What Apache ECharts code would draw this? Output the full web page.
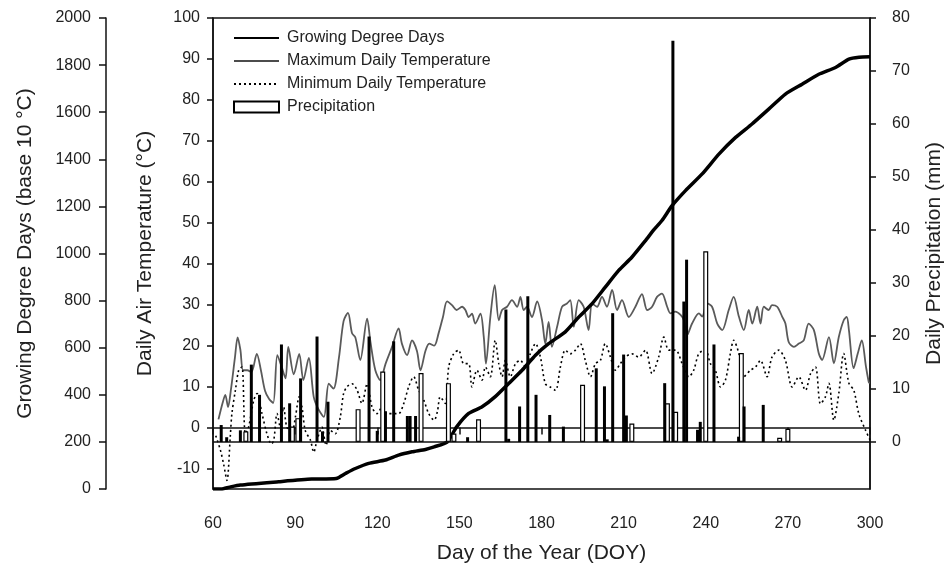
<!DOCTYPE html>
<html>
<head>
<meta charset="utf-8">
<script src="https://cdn.jsdelivr.net/npm/echarts@6/dist/echarts.min.js"></script>
<style>
html,body{margin:0;padding:0;background:#fff;}
#chart{width:947px;height:569px;}
</style>
</head>
<body>
<div id="chart"></div>
<script>
// ---------- DATA ----------
const xTicks = [60, 90, 120, 150, 180, 210, 240, 270, 300];
const tempTicks = [-10, 0, 10, 20, 30, 40, 50, 60, 70, 80, 90, 100];
const precipTicks = [0, 10, 20, 30, 40, 50, 60, 70, 80];

// Growing Degree Days (cumulative, base 10 °C)
const gddDays = [60,63,66,70,84,96,105,108.4,112,116.9,123,127.8,132.7,137.6,140.8,145.5,149,153.4,158.3,163,168,172.9,177.8,182.6,188.7,193.6,198.5,203.3,208.2,213,218,221,224,227.7,232.6,238.7,244.8,250.9,256.9,263,269.1,275.2,281.3,287.4,292.3,296,300];
const gddValues = [0,0,8,17,31,42,45,66,87,109,123,144,158,168,179,199,264,321,349,391,448,504,568,617,667,730,787,857,928,984,1055,1100,1140,1203,1267,1338,1422,1493,1550,1613,1677,1719,1761,1790,1825,1833,1835];

// Maximum daily temperature (°C)
const maxTempDays = [62,63.5,64.5,65.5,66.5,68,69,70,71,72.5,74,76,77.5,79,80.5,82,83.5,85,86.5,87.5,89.5,91.5,93,95,96.8,98.5,100.5,102.3,104,106,107.7,109.3,110.8,112,113.8,116.3,117.5,119.3,121.1,123,125.4,127.8,129,130.9,132.7,134.5,135.8,137.6,139,140.8,142.4,144,145.5,147.3,149,151,152.2,153.4,154.6,155.8,157.7,158.9,159.7,161.3,162.9,164.4,165.6,167.4,169.2,171.1,172.3,173.5,174.7,176.5,178.4,180.2,181.4,182.6,183.8,185.7,187.5,189.3,190.5,191.8,193.6,195.4,197.2,198.5,200.3,202.1,203.9,205.8,207.6,209.4,211.9,214.3,216.7,218.6,220.4,222.2,224,225.9,227.1,228.9,230.8,232,233.2,235,237.5,238.7,240.5,242.3,244.2,246,248.4,250.2,252.1,253.9,255.7,257,258.8,260,261.2,263,264.2,266.1,267.9,269.1,270.3,272.2,274,275.8,277.6,279.5,281.3,282.5,285,286.8,288.6,290.4,291.5,292.3,294,295.5,297,298.5,299.6,300];
const maxTempValues = [2,6,8,5,9,17,22,19,14,14,13.5,18,14,9,7,6,17.7,15,12,19.7,13,18,11.6,17,7.5,4.5,2.6,10.7,9.5,17,26,28,23,22,16.5,26.6,21,14,11.6,15.5,19.7,24.2,20.5,17.7,21.3,18.7,14,18.7,20.5,20,23,27,30.8,29.9,28.7,29.5,28.7,27,27.8,25.4,27.8,22.2,15.6,26.9,34.8,26.2,28.7,29.5,31.1,29.5,31.9,28.7,29.5,27,30.8,26.2,20.5,25.8,19.7,24.6,29.5,30.3,31.1,24.6,31.1,29.5,23.8,30.3,29.5,31.9,29.5,33.6,28.7,31.1,27,29.5,32.6,28.7,29.5,31.9,32.7,29.5,27.9,28.3,27.5,26.2,22.6,25.4,27.9,27.1,30.3,29.5,25.4,23.8,28.7,31.9,27.1,23.8,28.7,25.4,29.5,25.4,29.5,28.7,29.9,29.5,27.1,25.4,20.9,19.7,20.5,21.3,25.4,23.8,18.1,16.5,22.1,15.7,22.1,26.2,27,23.8,14.5,18,21.3,15,11,10.9];

// Minimum daily temperature (°C)
const minTempDays = [61,62.7,63.9,65.1,66.3,66.9,68.2,69.4,70.6,71.8,73,74.9,76.1,77.9,79.7,81.3,82.2,83.4,84.6,85.8,87,88.9,90.1,91.5,92.5,93.7,95.6,96.8,98,99.8,101.3,102.9,104.7,106.5,107.7,109,110.8,112.6,114.4,116.3,118.1,119.9,121.8,123.6,126,127.8,129.7,131.5,133.3,135.1,137,138.8,140.8,142,143,144.9,146.1,147.9,149.7,151.6,153.4,154.6,156.4,158.3,159.5,161.3,163.1,164.4,165.6,166.8,168.6,170.5,172.3,174.1,175.9,177.8,179.6,181.4,183.2,185.1,186.9,188.7,190.5,192.4,194.2,196,197.9,199.7,201.5,203.3,205.2,207,208.8,210.6,213.1,215.5,218,220.4,222.8,224.7,226.5,229,231.4,233.8,235.6,237.5,239.9,241.7,243.5,245.4,247.2,249,250.2,252.1,253.9,256.3,258.2,260,262.4,264.2,266.7,269.1,271.6,274,276.4,278.3,280.1,281.9,283.7,285,286.8,288.6,290.4,292.3,294.1,295.9,298.4,300];
const minTempValues = [-2,-5.5,-9,-12.9,-2.3,3.4,9.2,14,14.8,-1.5,0.1,6.7,8.3,3.4,-1.5,-4,-3.1,3.4,0.1,5,0.1,-0.7,2.6,7.5,5,-0.7,-3.1,-6,-3.1,0.1,-4.3,-0.7,-1.5,2.6,8.3,10,10.7,9.2,5.9,10.7,5,3.4,5,3.4,3.4,3.4,5.9,10,12.4,9.2,6.7,3.4,1.8,4,7.5,5.9,14.8,18,18.9,15.6,15.6,9.9,14,11.6,14.8,12.4,21.3,15.6,12.4,16.4,12.4,15.6,16.4,14.8,18,20.5,17.2,10.7,9.9,9.1,14.8,18.9,18,18.9,20.5,16.4,12.4,15.6,16.4,20.5,17.2,14,15.6,17.2,18,17.2,18.9,13.2,17.2,22.1,18.9,18.9,15.6,12.4,14,18.1,18.9,15.6,14,9.9,11.6,18.1,21.3,18.1,12.4,14,14.8,16.4,12.4,17.2,18.9,16.4,9.9,12.4,9.1,13.2,14.8,5.8,7.5,10.8,1.8,8.3,18.1,10.8,9.1,3.4,-0.7,-3];

// Daily precipitation (mm) - bars drawn solid in the reference
const rainSolidDays = [63,65,70,74,77,85,88,92,98,100,102,117,120,123,126,131,132,134,153,167,168,172,175,178,183,188,200,203,204,206,210,211,225,228,232,233,237,238,243,252,254,261];
const rainSolidMm = [3.2,0.9,2.2,14.6,8.9,18.4,7.3,12.0,19.9,2.0,7.6,19.9,2.1,5.8,19.0,4.9,4.9,4.9,0.9,25.0,0.6,6.7,27.5,8.9,5.1,2.9,13.9,10.5,0.5,24.3,16.5,5.0,11.1,75.7,26.5,34.4,2.3,3.8,18.4,1.0,6.7,7.0];
// Daily precipitation (mm) - bars drawn open in the reference
const rainOpenDays = [72,89,91,113,122,136,146,148,157,195,213,226,229,240,253,267,270];
const rainOpenMm = [2.0,2.9,4.5,6.2,13.3,13.0,11.1,1.6,4.3,10.8,3.5,7.3,5.7,36.0,16.8,0.8,2.5];

// ---------- CHART ----------
const pair = (xs, ys) => xs.map((x, i) => [x, ys[i]]);
const FONT = "'Liberation Sans', Arial, sans-serif";
const TXT = '#222';

const chart = echarts.init(document.getElementById('chart'), null, {renderer: 'canvas'});

const axisLineStyle = {lineStyle: {color: '#111', width: 1.5}};
const tickStyle = {lineStyle: {color: '#111', width: 1.5}};
const plain = v => String(v);

chart.setOption({
  animation: false,
  backgroundColor: '#fff',
  textStyle: {fontFamily: FONT},
  grid: {left: 213, right: 77, top: 18, bottom: 80, containLabel: false, outerBoundsMode: 'none',
         show: true, borderColor: '#111', borderWidth: 1.5, backgroundColor: 'transparent'},
  legend: {
    orient: 'vertical',
    left: 233, top: 30,
    padding: 0,
    itemWidth: 45, itemHeight: 11, itemGap: 7,
    textStyle: {fontSize: 16, color: TXT, fontFamily: FONT, padding: [0, 0, 0, 3]},
    data: [
      {name: 'Growing Degree Days', itemStyle: {opacity: 0}},
      {name: 'Maximum Daily Temperature', itemStyle: {opacity: 0}, lineStyle: {color: '#111', width: 1.5}},
      {name: 'Minimum Daily Temperature', itemStyle: {opacity: 0}},
      {name: 'Precipitation', icon: 'rect'}
    ]
  },
  xAxis: [
    {
      type: 'value', min: 60, max: 300, interval: 30,
      name: 'Day of the Year (DOY)', nameLocation: 'middle', nameGap: 54,
      nameTextStyle: {fontSize: 21, color: TXT, fontFamily: FONT},
      axisLine: axisLineStyle,
      axisTick: {show: true, length: 7, inside: false, ...tickStyle, customValues: xTicks},
      axisLabel: {fontSize: 16, color: TXT, margin: 27, fontFamily: FONT, customValues: xTicks, formatter: plain},
      splitLine: {show: false}
    },
    {
      type: 'value', min: 60, max: 300, show: false, gridIndex: 0
    }
  ],
  yAxis: [
    {
      type: 'value', min: -15, max: 100, position: 'left',
      name: 'Daily Air Temperature (°C)', nameLocation: 'middle', nameGap: 57,
      nameTextStyle: {fontSize: 21, color: TXT, fontFamily: FONT},
      axisLine: {show: true, ...axisLineStyle},
      axisTick: {show: true, length: 6, ...tickStyle, customValues: tempTicks},
      axisLabel: {fontSize: 16, color: TXT, margin: 13, fontFamily: FONT, customValues: tempTicks, formatter: plain},
      splitLine: {show: false}
    },
    {
      type: 'value', min: 0, max: 2000, interval: 200, position: 'left', offset: 107,
      name: 'Growing Degree Days (base 10 °C)', nameLocation: 'middle', nameGap: 70,
      nameTextStyle: {fontSize: 21, color: TXT, fontFamily: FONT},
      axisLine: {show: true, ...axisLineStyle},
      axisTick: {show: true, length: 7, ...tickStyle},
      axisLabel: {fontSize: 16, color: TXT, margin: 15, fontFamily: FONT, formatter: plain},
      splitLine: {show: false}
    },
    {
      type: 'value', min: -8.87, max: 80, position: 'right',
      name: 'Daily Precipitation (mm)', nameLocation: 'middle', nameGap: 54, nameRotate: 90,
      nameTextStyle: {fontSize: 21, color: TXT, fontFamily: FONT},
      axisLine: {show: true, ...axisLineStyle},
      axisTick: {show: true, length: 6, ...tickStyle, customValues: precipTicks},
      axisLabel: {fontSize: 16, color: TXT, margin: 22, fontFamily: FONT, customValues: precipTicks, formatter: plain},
      splitLine: {show: false}
    }
  ],
  series: [
    {
      name: 'Growing Degree Days', type: 'line', xAxisIndex: 0, yAxisIndex: 1,
      data: pair(gddDays, gddValues), showSymbol: false, symbol: 'none', smooth: 0.2,
      lineStyle: {color: '#000', width: 3.5}, itemStyle: {color: '#000'}, z: 3
    },
    {
      name: 'Maximum Daily Temperature', type: 'line', xAxisIndex: 0, yAxisIndex: 0,
      data: pair(maxTempDays, maxTempValues), showSymbol: false, symbol: 'none', smooth: 0.3,
      lineStyle: {color: '#5a5a5a', width: 1.8}, itemStyle: {color: '#111'}, z: 2
    },
    {
      name: 'Minimum Daily Temperature', type: 'line', xAxisIndex: 0, yAxisIndex: 0,
      data: pair(minTempDays, minTempValues), showSymbol: false, symbol: 'none', smooth: 0.3,
      lineStyle: {color: '#000', width: 1.6, type: [2, 3]}, itemStyle: {color: '#000'}, z: 2
    },
    {
      name: 'Precipitation', type: 'bar', xAxisIndex: 0, yAxisIndex: 2,
      data: pair(rainOpenDays, rainOpenMm), barWidth: 5,
      itemStyle: {color: '#fff', borderColor: '#000', borderWidth: 1.2},
      markLine: {
        silent: true, symbol: 'none', label: {show: false},
        lineStyle: {color: '#111', width: 1.5, type: 'solid'},
        data: [{yAxis: 0}]
      },
      z: 4
    },
    {
      name: 'Precipitation (solid)', type: 'bar', xAxisIndex: 1, yAxisIndex: 2,
      data: pair(rainSolidDays, rainSolidMm), barWidth: 3,
      itemStyle: {color: '#000'},
      z: 5
    }
  ]
});
</script>
</body>
</html>
